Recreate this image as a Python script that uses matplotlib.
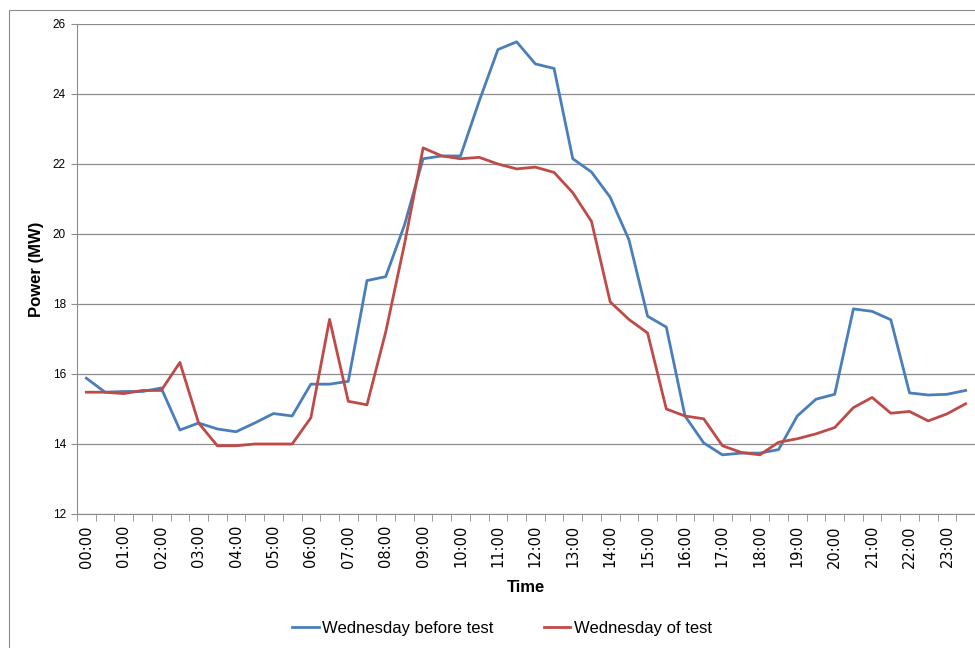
"""
Power demand comparison: Wednesday before test vs Wednesday of test
"""

import matplotlib.pyplot as plt
from matplotlib.patches import Rectangle
from matplotlib.ticker import FixedLocator, NullFormatter

# half-hourly slots 00:00 .. 23:30
times = [f"{h:02d}:{m:02d}" for h in range(24) for m in (0, 30)]

before_test = [15.88, 15.48, 15.50, 15.50, 15.60, 14.40, 14.60, 14.43,
               14.35, 14.60, 14.87, 14.80, 15.71, 15.71, 15.79, 18.67,
               18.78, 20.25, 22.15, 22.23, 22.23, 23.80, 25.27, 25.49,
               24.86, 24.73, 22.15, 21.77, 21.05, 19.84, 17.65, 17.34,
               14.80, 14.03, 13.69, 13.74, 13.74, 13.84, 14.80, 15.28,
               15.42, 17.86, 17.79, 17.55, 15.46, 15.40, 15.42, 15.53]

of_test = [15.48, 15.48, 15.44, 15.53, 15.53, 16.33, 14.60, 13.95,
           13.95, 14.00, 14.00, 14.00, 14.75, 17.56, 15.22, 15.12,
           17.20, 19.70, 22.46, 22.23, 22.15, 22.19, 22.00, 21.86,
           21.91, 21.76, 21.18, 20.36, 18.06, 17.56, 17.17, 15.00,
           14.80, 14.72, 13.95, 13.76, 13.69, 14.05, 14.15, 14.29,
           14.47, 15.04, 15.33, 14.88, 14.93, 14.66, 14.86, 15.15]

series_names = ["Wednesday before test", "Wednesday of test"]
colors = ["#4A7EBB", "#BE4B48"]

plt.rcParams['font.family'] = ['Liberation Sans', 'DejaVu Sans']

fig = plt.figure(figsize=(9.75, 6.48), dpi=100)
# chart-area border (Excel style)
fig.patches.append(Rectangle((8.5 / 975, -0.1), 1.2, 1 - 10.5 / 648 + 0.1,
                             transform=fig.transFigure, fill=False,
                             edgecolor='#8C8C8C', linewidth=0.8))

ax = fig.add_axes([77 / 975, 1 - 514 / 648, (975 - 77) / 975, (514 - 24) / 648])

x = list(range(len(times)))
ax.plot(x, before_test, color=colors[0], linewidth=2.0, label=series_names[0])
ax.plot(x, of_test, color=colors[1], linewidth=2.0, label=series_names[1])

ax.set_xlim(-0.5, len(times) - 0.5)
ax.set_ylim(12, 26)
ax.set_yticks(range(12, 27, 2))
ax.grid(axis='y', color='#8C8C8C', linewidth=0.9)
ax.set_axisbelow(True)

# labels every hour, tick marks between every category
ax.set_xticks(x[::2])
ax.set_xticklabels(times[::2], rotation=90, fontsize=10.5,
                   family=['DejaVu Sans'])
ax.xaxis.set_minor_locator(FixedLocator([i - 0.5 for i in range(len(times) + 1)]))
ax.xaxis.set_minor_formatter(NullFormatter())
ax.tick_params(axis='x', which='major', length=0, pad=8)
ax.tick_params(axis='x', which='minor', length=5, color='#8C8C8C')
ax.tick_params(axis='y', length=4, color='#8C8C8C', labelsize=8.5, pad=4)

for side in ['top', 'right']:
    ax.spines[side].set_visible(False)
for side in ['left', 'bottom']:
    ax.spines[side].set_color('#8C8C8C')

ax.set_xlabel('Time', fontsize=12, fontweight='bold', labelpad=9)
ax.set_ylabel('Power (MW)', fontsize=12, fontweight='bold', labelpad=6)

fig.legend(loc='center', bbox_to_anchor=(0.515, 1 - 628 / 648), ncol=2,
           frameon=False, fontsize=12, handlelength=1.6, handletextpad=0.2,
           columnspacing=3.0)

fig.savefig('out.png', dpi=100)
